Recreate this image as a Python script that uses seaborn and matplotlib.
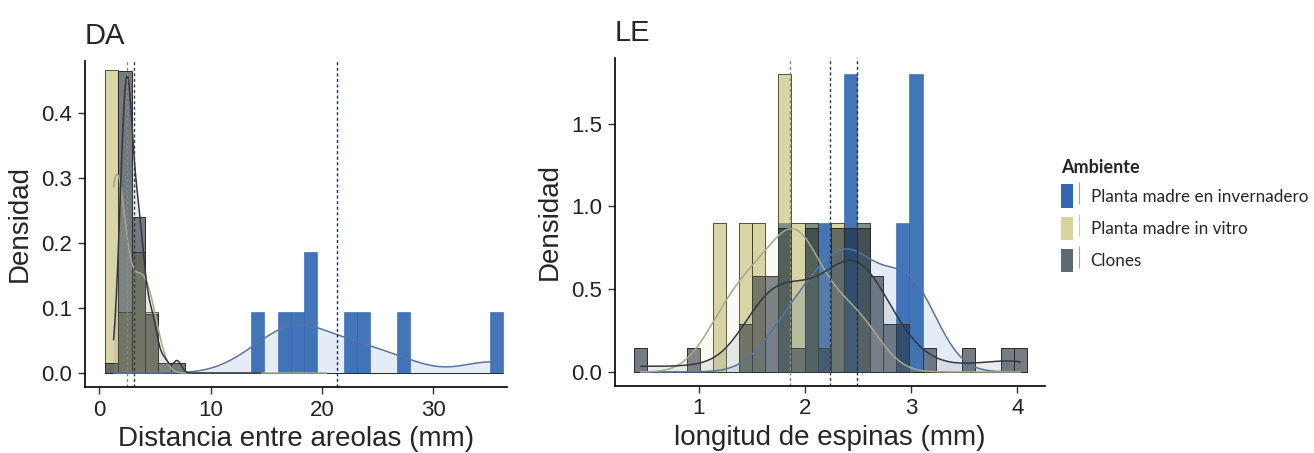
import numpy as np
import matplotlib
matplotlib.use("Agg")
import matplotlib.pyplot as plt
import seaborn as sns
from matplotlib.patches import Patch
from matplotlib.lines import Line2D
from matplotlib.legend_handler import HandlerTuple

# ---- data -------------------------------------------------------------
groups = ["Planta madre en invernadero", "Planta madre in vitro", "Clones"]

# distance between areoles (mm)
da_invernadero = [13.8, 16.1, 17.3, 18.5, 18.9, 22.0, 23.3, 26.8, 35.2]
da_invitro = [1.3, 1.4, 1.5, 1.6, 1.7, 2.6, 3.6, 4.0, 4.9]
da_clones = [1.5,
             1.8, 1.9, 1.9, 2.0, 2.0, 2.1, 2.1, 2.2, 2.2, 2.25, 2.3, 2.3, 2.3, 2.4, 2.4,
             2.4, 2.5, 2.5, 2.5, 2.6, 2.6, 2.6, 2.7, 2.7, 2.7, 2.8, 2.8, 2.8, 2.9, 2.9,
             2.9,
             3.0, 3.1, 3.2, 3.3, 3.3, 3.4, 3.45, 3.5, 3.5, 3.6, 3.7, 3.8, 3.8, 3.9, 4.0,
             4.1,
             4.3, 4.5, 4.6, 4.8, 5.0, 5.2,
             5.9, 7.0]

# spine length (mm)
le_invernadero = [1.80, 2.05, 2.20, 2.40, 2.45, 2.55, 2.90, 3.00, 3.05]
le_invitro = [1.20, 1.45, 1.55, 1.80, 1.85, 1.95, 2.05, 2.30, 2.55]
le_clones = [0.45, 0.95, 1.40, 1.45,
             1.52, 1.55, 1.58, 1.60, 1.65, 1.68, 1.70, 1.72,
             1.76, 1.78, 1.80, 1.82, 1.84, 1.86, 1.92,
             2.00, 2.03, 2.05, 2.08, 2.10, 2.11, 2.18,
             2.25, 2.28, 2.30, 2.32, 2.34, 2.35,
             2.38, 2.40, 2.42, 2.44, 2.46, 2.48,
             2.50, 2.53, 2.55, 2.57, 2.59, 2.60,
             2.63, 2.65, 2.70, 2.72, 2.75, 2.80, 2.90, 2.95,
             3.15, 3.55, 3.90, 4.03]

panel_titles = ["DA", "LE"]
x_titles = ["Distancia entre areolas (mm)", "longitud de espinas (mm)"]
y_title = "Densidad"
legend_title = "Ambiente"

da_xticks = [0, 10, 20, 30]
da_yticks = [0.0, 0.1, 0.2, 0.3, 0.4]
le_xticks = [1, 2, 3, 4]
le_yticks = [0.0, 0.5, 1.0, 1.5]

# ---- styling ----------------------------------------------------------
sns.set_style("ticks")
plt.rcParams["font.family"] = ["Liberation Sans", "DejaVu Sans"]

bar_style = {
    "Planta madre en invernadero": dict(color="#2a62b0", alpha=0.88, edgecolor="#2a62b0", linewidth=0.4),
    "Planta madre in vitro": dict(color="#b3ad4e", alpha=0.5, edgecolor="#3a3a20", linewidth=0.6),
    "Clones": dict(color="#1c2530", alpha=0.6, edgecolor="#2a2a2a", linewidth=0.7),
}
legend_fill = {
    "Planta madre en invernadero": "#3369b4",
    "Planta madre in vitro": "#d6d39e",
    "Clones": "#5d6a72",
}
kde_line = {
    "Planta madre en invernadero": "#5874a0",
    "Planta madre in vitro": "#a8a88a",
    "Clones": "#333840",
}
mean_line = {
    "Planta madre en invernadero": "#1d2f55",
    "Planta madre in vitro": "#8a8a70",
    "Clones": "#3a3a3a",
}
draw_order = ["Planta madre en invernadero", "Planta madre in vitro", "Clones"]


def r_bw_factor(values):
    """Bandwidth factor reproducing the nrd0 rule of thumb."""
    x = np.asarray(values, float)
    sd = x.std(ddof=1)
    q75, q25 = np.percentile(x, [75, 25])
    iqr = q75 - q25
    lo = min(sd, iqr / 1.34) if iqr > 0 else sd
    return 0.9 * lo * len(x) ** -0.2 / sd


def draw_panel(ax, samples, bins, xlim, ylim, xticks, yticks, yfmt):
    all_vals = np.concatenate([np.asarray(v, float) for v in samples.values()])
    lo, hi = all_vals.min(), all_vals.max()
    for g in draw_order:
        st = bar_style[g]
        sns.histplot(x=samples[g], bins=bins, stat="density", ax=ax,
                     color=st["color"], alpha=st["alpha"],
                     edgecolor=st["edgecolor"], linewidth=st["linewidth"])
    for g in draw_order:
        bw = r_bw_factor(samples[g])
        sns.kdeplot(x=samples[g], bw_method=bw, cut=20, clip=(lo, hi), ax=ax,
                    fill=True, color=legend_fill[g], alpha=0.12, linewidth=0)
        sns.kdeplot(x=samples[g], bw_method=bw, cut=20, clip=(lo, hi), ax=ax,
                    color=kde_line[g], linewidth=1.1)
    for g in draw_order:
        ax.axvline(np.mean(samples[g]), color=mean_line[g], linewidth=1.0,
                   linestyle=(0, (2.2, 1.8)))
    ax.set_xlim(*xlim)
    ax.set_ylim(*ylim)
    ax.set_xticks(xticks)
    ax.set_yticks(yticks)
    ax.set_yticklabels([yfmt.format(t) for t in yticks])
    ax.set_ylabel(y_title, fontsize=20, labelpad=6)
    ax.tick_params(axis="both", labelsize=16, length=5, width=1,
                   color="#333333", labelcolor="#222222", pad=4)
    for side in ("left", "bottom"):
        ax.spines[side].set_linewidth(1.2)
        ax.spines[side].set_color("black")
    sns.despine(ax=ax)


fig = plt.figure(figsize=(13.14, 4.53), dpi=100)
ax_da = fig.add_axes([85 / 1314, 1 - 387 / 453, 422 / 1314, 326 / 453])
ax_le = fig.add_axes([615 / 1314, 1 - 386 / 453, 430 / 1314, 328 / 453])

da_bins = np.linspace(0.55, 0.55 + 1.19 * 30, 31)
le_bins = np.linspace(0.39, 0.39 + 0.1235 * 30, 31)

draw_panel(ax_da,
           {groups[0]: da_invernadero, groups[1]: da_invitro, groups[2]: da_clones},
           da_bins, (-1.26, 36.6), (-0.0215, 0.48), da_xticks, da_yticks, "{:.1f}")
draw_panel(ax_le,
           {groups[0]: le_invernadero, groups[1]: le_invitro, groups[2]: le_clones},
           le_bins, (0.21, 4.26), (-0.085, 1.897), le_xticks, le_yticks, "{:.1f}")

for ax, title, xt in zip((ax_da, ax_le), panel_titles, x_titles):
    ax.set_title(title, loc="left", fontsize=21, pad=12)
    ax.set_xlabel(xt, fontsize=20, labelpad=4)

# legend
handles = []
for g in groups:
    patch = Patch(facecolor=legend_fill[g], edgecolor="none")
    tick = Line2D([], [], color=mean_line[g], marker="|", markersize=16,
                  linestyle="none", markeredgewidth=0.8, alpha=0.45)
    handles.append((patch, tick))
leg = fig.legend(handles, groups, loc="upper left",
                 bbox_to_anchor=(1054 / 1314, 1 - 152 / 453),
                 title=legend_title, frameon=False,
                 handler_map={tuple: HandlerTuple(ndivide=None, pad=0)},
                 prop={"family": ["Lato", "DejaVu Sans"], "size": 12.3},
                 handlelength=1.4, handleheight=1.75, handletextpad=0.35,
                 labelspacing=0.5, borderaxespad=0)
leg.get_title().set_fontweight("bold")
leg.get_title().set_family(["Lato", "DejaVu Sans"])
leg.get_title().set_fontsize(13)
leg._legend_box.align = "left"

fig.savefig("out.png", dpi=100)
